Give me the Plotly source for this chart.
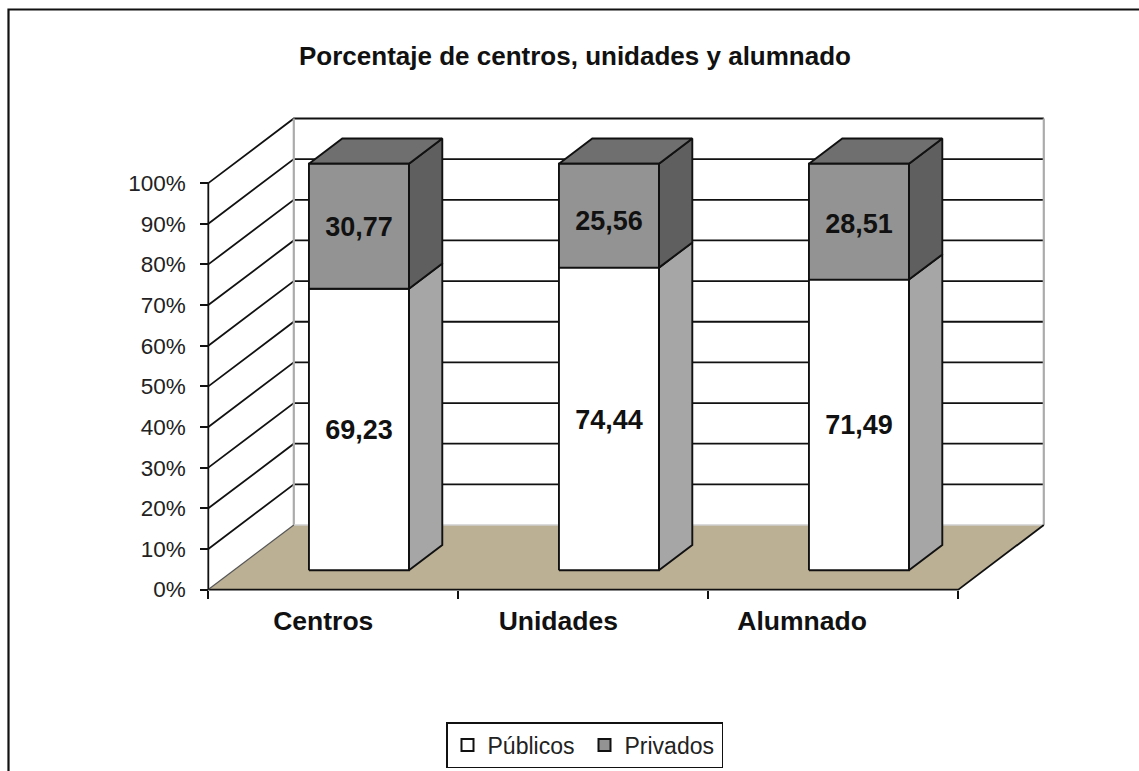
import plotly.graph_objects as go

# ---- data ----
categories = ["Centros", "Unidades", "Alumnado"]
publicos = [69.23, 74.44, 71.49]
privados = [30.77, 25.56, 28.51]
y_ticks = [0, 10, 20, 30, 40, 50, 60, 70, 80, 90, 100]
y_labels = [f"{t}%" for t in y_ticks]
series_names = ["Públicos", "Privados"]

# ---- layout constants (pixels of the 1139x771 canvas) ----
W, H = 1139, 771
X0_PX, Y0_PX = 208.3, 589.6     # origin of front plane
PX_PER_CAT, PX_PER_PCT = 250.0, 4.065
DEPTH_X, DEPTH_Y = 85.5, 64.6   # full depth of the oblique box
BAR_WIDTH = 0.4                 # in category units
BAR_D0, BAR_D1 = 0.30, 0.69     # bar front / back depth
BAR_SHIFT = 0.5
NUDGE_PUB = [-3, -3, -2.5]      # px, label offset on the white segment
NUDGE_PRI = [-2.5, -8, -5]      # px, label offset on the grey segment

FONT = "Liberation Sans"
INK = "#111111"


def project(x, v, d=0.0):
    """Oblique projection: category x, percent v, depth d -> axis units."""
    return x + d * DEPTH_X / PX_PER_CAT, v + d * DEPTH_Y / PX_PER_PCT


fig = go.Figure()


def poly(points, fill=None, line="#111111", width=1.9):
    xs, ys = zip(*[project(*p) for p in points])
    fig.add_trace(go.Scatter(
        x=list(xs), y=list(ys), mode="lines",
        fill="toself" if fill else None, fillcolor=fill,
        line=dict(color=line, width=width) if line else dict(width=0),
        hoverinfo="skip", showlegend=False))


n = len(categories)

# back wall grid and side wall grid
for t in y_ticks:
    if t > 0:
        poly([(0, t, 0), (0, t, 1), (n, t, 1)], line=INK, width=1.8)
poly([(0, 0, 1), (0, 100, 1)], line="#ababab", width=2.2)
poly([(n, 0, 1), (n, 100, 1)], line="#ababab", width=2.2)

# floor
poly([(0, 0, 0), (n, 0, 0), (n, 0, 1), (0, 0, 1), (0, 0, 0)], fill="#bbaf94", line=None)
poly([(0, 0, 1), (n, 0, 1)], line="#cfcfcf", width=1.5)
poly([(n, 0, 1), (n, 0, 0), (0, 0, 0)], line=INK, width=1.8)
poly([(0, 0, 1), (0, 0, 0)], line="#555555", width=1.2)
poly([(0, 0, 0), (0, 100, 0)], line=INK, width=1.8)

# bars
label_x, label_y, label_t = [], [], []
for i in range(n):
    c = i + BAR_SHIFT
    l, r = c - BAR_WIDTH / 2, c + BAR_WIDTH / 2
    a, b = publicos[i], publicos[i] + privados[i]
    # side faces
    poly([(r, 0, BAR_D0), (r, 0, BAR_D1), (r, a, BAR_D1), (r, a, BAR_D0), (r, 0, BAR_D0)], fill="#a6a6a6")
    poly([(r, a, BAR_D0), (r, a, BAR_D1), (r, b, BAR_D1), (r, b, BAR_D0), (r, a, BAR_D0)], fill="#5f5f5f")
    # top
    poly([(l, b, BAR_D0), (r, b, BAR_D0), (r, b, BAR_D1), (l, b, BAR_D1), (l, b, BAR_D0)], fill="#6f6f6f")
    # front faces
    poly([(l, 0, BAR_D0), (r, 0, BAR_D0), (r, a, BAR_D0), (l, a, BAR_D0), (l, 0, BAR_D0)], fill="#ffffff")
    poly([(l, a, BAR_D0), (r, a, BAR_D0), (r, b, BAR_D0), (l, b, BAR_D0), (l, a, BAR_D0)], fill="#939393")
    for v, val, nudge in ((a / 2, publicos[i], NUDGE_PUB[i]), ((a + b) / 2, privados[i], NUDGE_PRI[i])):
        px_, py_ = project(c, v, BAR_D0)
        label_x.append(px_)
        label_y.append(py_ + nudge / PX_PER_PCT)
        label_t.append(f"{val:.2f}".replace(".", ","))

fig.add_trace(go.Scatter(
    x=label_x, y=label_y, text=label_t, mode="text", textposition="middle center",
    textfont=dict(family=FONT, size=27, color=INK, weight="bold"),
    hoverinfo="skip", showlegend=False))

# legend entries
for name, col in zip(series_names, ["#ffffff", "#939393"]):
    fig.add_trace(go.Scatter(
        x=[None], y=[None], mode="markers", name=name,
        marker=dict(symbol="square", size=12, color=col, line=dict(color=INK, width=2))))

cat_label_pos = [0.46, 1.40, 2.375]

fig.update_layout(
    width=W, height=H, margin=dict(l=0, r=0, t=0, b=0),
    paper_bgcolor="white", plot_bgcolor="white",
    title=dict(text="<b>Porcentaje de centros, unidades y alumnado</b>",
               x=575 / W, y=1 - 56 / H, xanchor="center", yanchor="middle",
               font=dict(family=FONT, size=26, color=INK)),
    xaxis=dict(range=[-X0_PX / PX_PER_CAT, (W - X0_PX) / PX_PER_CAT], domain=[0, 1],
               anchor="free", position=(H - Y0_PX) / H, side="bottom",
               showgrid=False, zeroline=False, showline=False,
               tickmode="array", tickvals=cat_label_pos, ticktext=categories,
               ticks="outside", ticklen=8, tickcolor="rgba(0,0,0,0)",
               tickfont=dict(family=FONT, size=26.5, color=INK, weight="bold"),
               minor=dict(ticks="outside", ticklen=8, tickwidth=1.5, tickcolor=INK,
                          tickmode="array", tickvals=list(range(n + 1)), showgrid=False)),
    yaxis=dict(range=[(Y0_PX - H) / PX_PER_PCT, Y0_PX / PX_PER_PCT], domain=[0, 1],
               anchor="free", position=X0_PX / W, side="left",
               showgrid=False, zeroline=False, showline=False,
               tickmode="array", tickvals=y_ticks, ticktext=y_labels,
               ticks="outside", ticklen=8, tickwidth=1.5, tickcolor=INK,
               ticklabelstandoff=10,
               tickfont=dict(family=FONT, size=22.5, color="#222222")),
    legend=dict(orientation="h", x=584.5 / W, xanchor="center", y=3 / H, yanchor="bottom",
                bgcolor="white", bordercolor=INK, borderwidth=1.5,
                entrywidth=92, entrywidthmode="pixels",
                font=dict(family=FONT, size=23, color="#222222"), itemsizing="constant"),
    shapes=[dict(type="path", xref="paper", yref="paper",
                 path=f"M {8.5 / W} 0 L {8.5 / W} {1 - 9.5 / H} L 1 {1 - 9.5 / H}",
                 line=dict(color="#111111", width=2.2))],
)

fig.write_html("out.html", config={"displayModeBar": False},
               post_script="document.body.style.margin='0';document.documentElement.style.overflow='hidden';")
